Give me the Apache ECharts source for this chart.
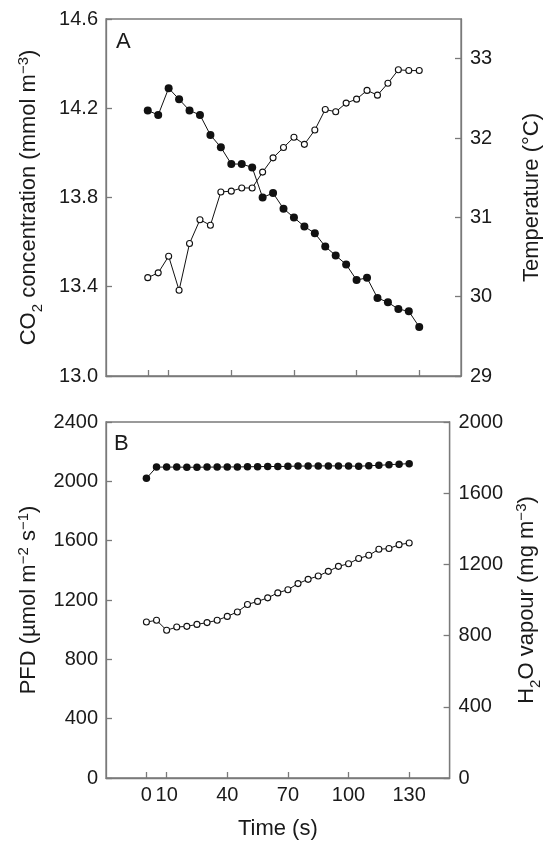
<!DOCTYPE html>
<html><head><meta charset="utf-8">
<script src="https://cdn.jsdelivr.net/npm/echarts@6/dist/echarts.min.js"></script>
<style>html,body{margin:0;padding:0;background:#fff}#c{width:551px;height:845px}</style>
</head><body><div id="c"></div>
<script>
const time = [0,5,10,15,20,25,30,35,40,45,50,55,60,65,70,75,80,85,90,95,100,105,110,115,120,125,130];
const co2 = [14.19,14.17,14.29,14.24,14.19,14.17,14.08,14.025,13.95,13.95,13.935,13.80,13.82,13.75,13.71,13.67,13.64,13.58,13.54,13.50,13.43,13.44,13.35,13.33,13.30,13.29,13.22];
const temperature = [30.24,30.30,30.51,30.08,30.67,30.97,30.90,31.32,31.33,31.37,31.37,31.57,31.75,31.88,32.01,31.92,32.10,32.36,32.33,32.44,32.49,32.60,32.54,32.69,32.86,32.85,32.85];
const pfd = [2020,2096,2096,2096,2095,2095,2096,2096,2097,2097,2098,2099,2100,2100,2101,2103,2103,2104,2104,2104,2103,2102,2105,2108,2112,2116,2119];
const h2o = [876,886,830,848,852,863,873,886,908,933,975,992,1012,1040,1058,1092,1116,1135,1161,1189,1204,1233,1251,1285,1289,1311,1320];
const timeTicks = [0,10,40,70,100,130];
const co2Ticks = [13.0,13.4,13.8,14.2,14.6];
const tempTicks = [29,30,31,32,33];
const pfdTicks = [0,400,800,1200,1600,2000,2400];
const h2oTicks = [0,400,800,1200,1600,2000];

const FONT = '"Liberation Sans", Arial, Helvetica, sans-serif';
const AX = '#7a7a7a';
const TXT = '#1a1a1a';
const pairs = (v) => time.map((t, i) => [t, v[i]]);

const chart = echarts.init(document.getElementById('c'), null, {renderer: 'canvas'});

const axisLine = {show: true, onZero: false, lineStyle: {color: AX, width: 1.3}};
const tickIn = (vals) => ({show: true, inside: true, length: 6, customValues: vals, lineStyle: {color: AX, width: 1.3}});
const lbl = (vals, margin, fmt) => ({show: true, customValues: vals, margin: margin, color: TXT, fontFamily: FONT, fontSize: 20,
  formatter: fmt || ((v) => String(v))});

const rich = {
  n: {fontFamily: FONT, fontSize: 22, color: TXT, lineHeight: 26},
  sub: {fontFamily: FONT, fontSize: 15, color: TXT, verticalAlign: 'bottom', lineHeight: 15, padding: [0,0,-3,0]},
  sup: {fontFamily: FONT, fontSize: 15, color: TXT, verticalAlign: 'top', lineHeight: 15}
};
const nameStyle = {fontFamily: FONT, fontSize: 22, color: TXT, rich: rich};

const option = {
  animation: false,
  backgroundColor: '#fff',
  grid: [
    {left: 106, top: 19, width: 357, height: 357, show: true, borderColor: AX, borderWidth: 1.3, containLabel: false},
    {left: 106, top: 422, width: 357, height: 356, show: true, borderColor: AX, borderWidth: 1.3, containLabel: false}
  ],
  xAxis: [
    {type: 'value', gridIndex: 0, min: -20, max: 150, axisLine: axisLine, axisTick: tickIn(timeTicks),
     axisLabel: {show: false}, splitLine: {show: false}},
    {type: 'value', gridIndex: 1, min: -20, max: 150, axisLine: axisLine, axisTick: tickIn(timeTicks),
     axisLabel: lbl(timeTicks, 7), splitLine: {show: false},
     name: 'Time (s)', nameLocation: 'middle', nameGap: 40, nameTextStyle: {fontFamily: FONT, fontSize: 22, color: TXT}}
  ],
  yAxis: [
    {type: 'value', gridIndex: 0, position: 'left', min: 13.0, max: 14.6,
     axisLine: axisLine, axisTick: tickIn(co2Ticks), axisLabel: lbl(co2Ticks, 8, (v) => v.toFixed(1)), splitLine: {show: false},
     name: '{n|CO}{sub|2}{n| concentration (mmol m}{sup|−3}{n|)}', nameLocation: 'middle', nameGap: 64, nameRotate: 90, nameTextStyle: nameStyle},
    {type: 'value', gridIndex: 0, position: 'right', min: 29, max: 33.5,
     axisLine: axisLine, axisTick: tickIn(tempTicks), axisLabel: lbl(tempTicks, 9), splitLine: {show: false},
     name: '{n|Temperature (°C)}', nameLocation: 'middle', nameGap: 58, nameRotate: 90, nameTextStyle: nameStyle},
    {type: 'value', gridIndex: 1, position: 'left', min: 0, max: 2400,
     axisLine: axisLine, axisTick: tickIn(pfdTicks), axisLabel: lbl(pfdTicks, 8), splitLine: {show: false},
     name: '{n|PFD (µmol m}{sup|−2}{n| s}{sup|−1}{n|)}', nameLocation: 'middle', nameGap: 64, nameRotate: 90, nameTextStyle: nameStyle},
    {type: 'value', gridIndex: 1, position: 'right', min: 0, max: 2000,
     axisLine: axisLine, axisTick: tickIn(h2oTicks), axisLabel: lbl(h2oTicks, 9), splitLine: {show: false},
     name: '{n|H}{sub|2}{n|O vapour (mg m}{sup|−3}{n|)}', nameLocation: 'middle', nameGap: 58, nameRotate: 90, nameTextStyle: nameStyle}
  ],
  graphic: [
    {type: 'text', left: 116, top: 31, style: {text: 'A', font: '22px ' + FONT, fill: TXT}},
    {type: 'text', left: 114, top: 433, style: {text: 'B', font: '22px ' + FONT, fill: TXT}}
  ],
  series: [
    {name: 'Temperature', type: 'line', xAxisIndex: 0, yAxisIndex: 1, data: pairs(temperature),
     symbol: 'circle', symbolSize: 6, lineStyle: {color: '#111', width: 1},
     itemStyle: {color: '#fff', borderColor: '#111', borderWidth: 1.1}, z: 2},
    {name: 'CO2', type: 'line', xAxisIndex: 0, yAxisIndex: 0, data: pairs(co2),
     symbol: 'circle', symbolSize: 8, lineStyle: {color: '#111', width: 1},
     itemStyle: {color: '#111'}, z: 3},
    {name: 'H2O', type: 'line', xAxisIndex: 1, yAxisIndex: 3, data: pairs(h2o),
     symbol: 'circle', symbolSize: 6, lineStyle: {color: '#111', width: 1},
     itemStyle: {color: '#fff', borderColor: '#111', borderWidth: 1.1}, z: 2},
    {name: 'PFD', type: 'line', xAxisIndex: 1, yAxisIndex: 2, data: pairs(pfd),
     symbol: 'circle', symbolSize: 7.5, lineStyle: {color: '#111', width: 1},
     itemStyle: {color: '#111'}, z: 3}
  ]
};
chart.setOption(option);
</script></body></html>
